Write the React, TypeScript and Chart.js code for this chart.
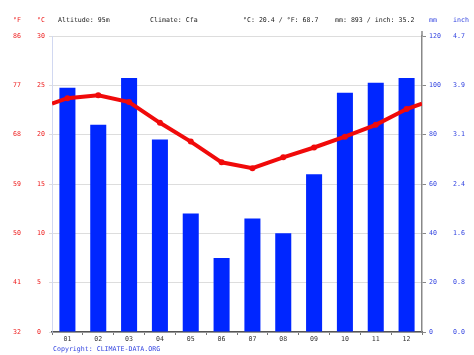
import React, { useEffect, useRef } from "react";
import { Chart, registerables } from "chart.js";

Chart.register(...registerables);

const months = ["01", "02", "03", "04", "05", "06", "07", "08", "09", "10", "11", "12"];
const precipitationMm = [99, 84, 103, 78, 48, 30, 46, 40, 64, 97, 101, 103];
const temperatureC = [23.7, 24.0, 23.3, 21.2, 19.3, 17.2, 16.6, 17.7, 18.7, 19.8, 21.0, 22.6];
const fahrenheitTicks = ["32", "41", "50", "59", "68", "77", "86"];
const inchTicks = ["0.0", "0.8", "1.6", "2.4", "3.1", "3.9", "4.7"];
const headerTexts = {
  altitude: "Altitude: 95m",
  climate: "Climate: Cfa",
  temp: "°C: 20.4 / °F: 68.7",
  precip: "mm: 893 / inch: 35.2",
  copyright: "Copyright: CLIMATE-DATA.ORG",
};

const FONT = "DejaVu Sans Mono";
const FS = 6.6;
const RED = "#ee2020";
const BLUE = "#3344e0";

export default function App() {
  const ref = useRef<HTMLCanvasElement | null>(null);

  useEffect(() => {
    if (!ref.current) return;
    const edge = (temperatureC[0] + temperatureC[temperatureC.length - 1]) / 2;
    const linePts = [
      { x: 0.5, y: edge },
      ...temperatureC.map((v, i) => ({ x: i + 1, y: v })),
      { x: months.length + 0.5, y: edge },
    ];
    const barPts = precipitationMm.map((v, i) => ({ x: i + 1, y: v }));

    const headerPlugin = {
      id: "header",
      afterDraw(chart: any) {
        const ctx = chart.ctx as CanvasRenderingContext2D;
        ctx.save();
        ctx.font = `${FS}px "${FONT}"`;
        ctx.textBaseline = "middle";
        ctx.textAlign = "left";
        const y = 20.5;
        ctx.fillStyle = RED;
        ctx.fillText("°F", 13, y);
        ctx.fillText("°C", 37, y);
        ctx.fillStyle = "#222";
        ctx.fillText(headerTexts.altitude, 58, y);
        ctx.fillText(headerTexts.climate, 150, y);
        ctx.fillText(headerTexts.temp, 243, y);
        ctx.fillText(headerTexts.precip, 335, y);
        ctx.fillStyle = BLUE;
        ctx.fillText("mm", 429, y);
        ctx.fillText("inch", 453, y);
        ctx.fillText(headerTexts.copyright, 53, 349.5);
        const a = chart.chartArea;
        ctx.strokeStyle = "#888";
        ctx.lineWidth = 1.5;
        ctx.beginPath();
        ctx.moveTo(a.right, a.top - 5);
        ctx.lineTo(a.right, a.top);
        ctx.stroke();
        ctx.restore();
      },
    };

    const tickFont = { family: FONT, size: FS };

    const chart = new Chart(ref.current, {
      type: "bar",
      data: {
        datasets: [
          {
            type: "line",
            data: linePts as any,
            xAxisID: "x",
            yAxisID: "yC",
            borderColor: "#f00a0a",
            backgroundColor: "#f00a0a",
            borderWidth: 4,
            pointRadius: (c: any) => (c.dataIndex === 0 || c.dataIndex === linePts.length - 1 ? 0 : 3),
            pointBorderWidth: 0,
            pointBackgroundColor: "#f00a0a",
            tension: 0,
            order: 0,
          } as any,
          {
            type: "bar",
            data: barPts as any,
            xAxisID: "x",
            yAxisID: "mm",
            backgroundColor: "rgb(0,38,255)",
            grouping: false,
            categoryPercentage: 1,
            barPercentage: 0.52,
            order: 1,
          } as any,
        ],
      },
      options: {
        responsive: false,
        animation: false,
        devicePixelRatio: 1,
        layout: { padding: { left: 13, right: 0, top: 36, bottom: 0 } },
        plugins: { legend: { display: false }, tooltip: { enabled: false } },
        scales: {
          x: {
            type: "linear",
            position: "bottom",
            min: 0.5,
            max: months.length + 0.5,
            offset: false,
            afterBuildTicks: (s: any) => {
              s.ticks = months.map((_, i) => ({ value: i + 1 }));
            },
            grid: { display: true, drawOnChartArea: false, drawTicks: true, tickLength: 3, color: "#777", offset: true },
            border: { display: true, color: "#555", width: 1.5 },
            ticks: {
              font: tickFont,
              color: "#333",
              padding: 0,
              maxRotation: 0,
              autoSkip: false,
              callback: (v: any) => months[Math.round(Number(v)) - 1],
            },
            afterFit: (s: any) => { s.height = 23; },
          },
          yC: {
            type: "linear",
            position: "left",
            weight: 0,
            min: 0,
            max: 30,
            ticks: { stepSize: 5, font: tickFont, color: RED, crossAlign: "far", padding: 2 },
            grid: { color: "#dddddd", lineWidth: 1, drawTicks: true, tickLength: 3 },
            border: { display: true, color: "rgba(190,200,235,0.7)", width: 1 },
            afterFit: (s: any) => { s.width = 15; },
          },
          yF: {
            type: "linear",
            position: "left",
            weight: 1,
            min: 0,
            max: 30,
            ticks: {
              stepSize: 5,
              font: tickFont,
              color: RED,
              crossAlign: "far",
              padding: 0,
              callback: (_v: any, i: number) => fahrenheitTicks[i],
            },
            grid: { display: false, drawTicks: false, tickLength: 0 },
            border: { display: false },
            afterFit: (s: any) => { s.width = 24; },
          },
          mm: {
            type: "linear",
            position: "right",
            weight: 0,
            min: 0,
            max: 120,
            ticks: { stepSize: 20, font: tickFont, color: BLUE, padding: 3 },
            grid: { drawOnChartArea: false, drawTicks: true, tickLength: 4, color: "#888" },
            border: { display: true, color: "#888", width: 1.5 },
            afterFit: (s: any) => { s.width = 31; },
          },
          inch: {
            type: "linear",
            position: "right",
            weight: 1,
            min: 0,
            max: 120,
            ticks: {
              stepSize: 20,
              font: tickFont,
              color: BLUE,
              padding: 0,
              callback: (_v: any, i: number) => inchTicks[i],
            },
            grid: { display: false, drawTicks: false, tickLength: 0 },
            border: { display: false },
            afterFit: (s: any) => { s.width = 21; },
          },
        },
      } as any,
      plugins: [headerPlugin],
    });
    return () => chart.destroy();
  }, []);

  return (
    <div style={{ position: "absolute", left: 0, top: 0, width: 474, height: 355, background: "#fff" }}>
      <canvas ref={ref} width={474} height={355} style={{ width: 474, height: 355, display: "block" }} />
    </div>
  );
}
